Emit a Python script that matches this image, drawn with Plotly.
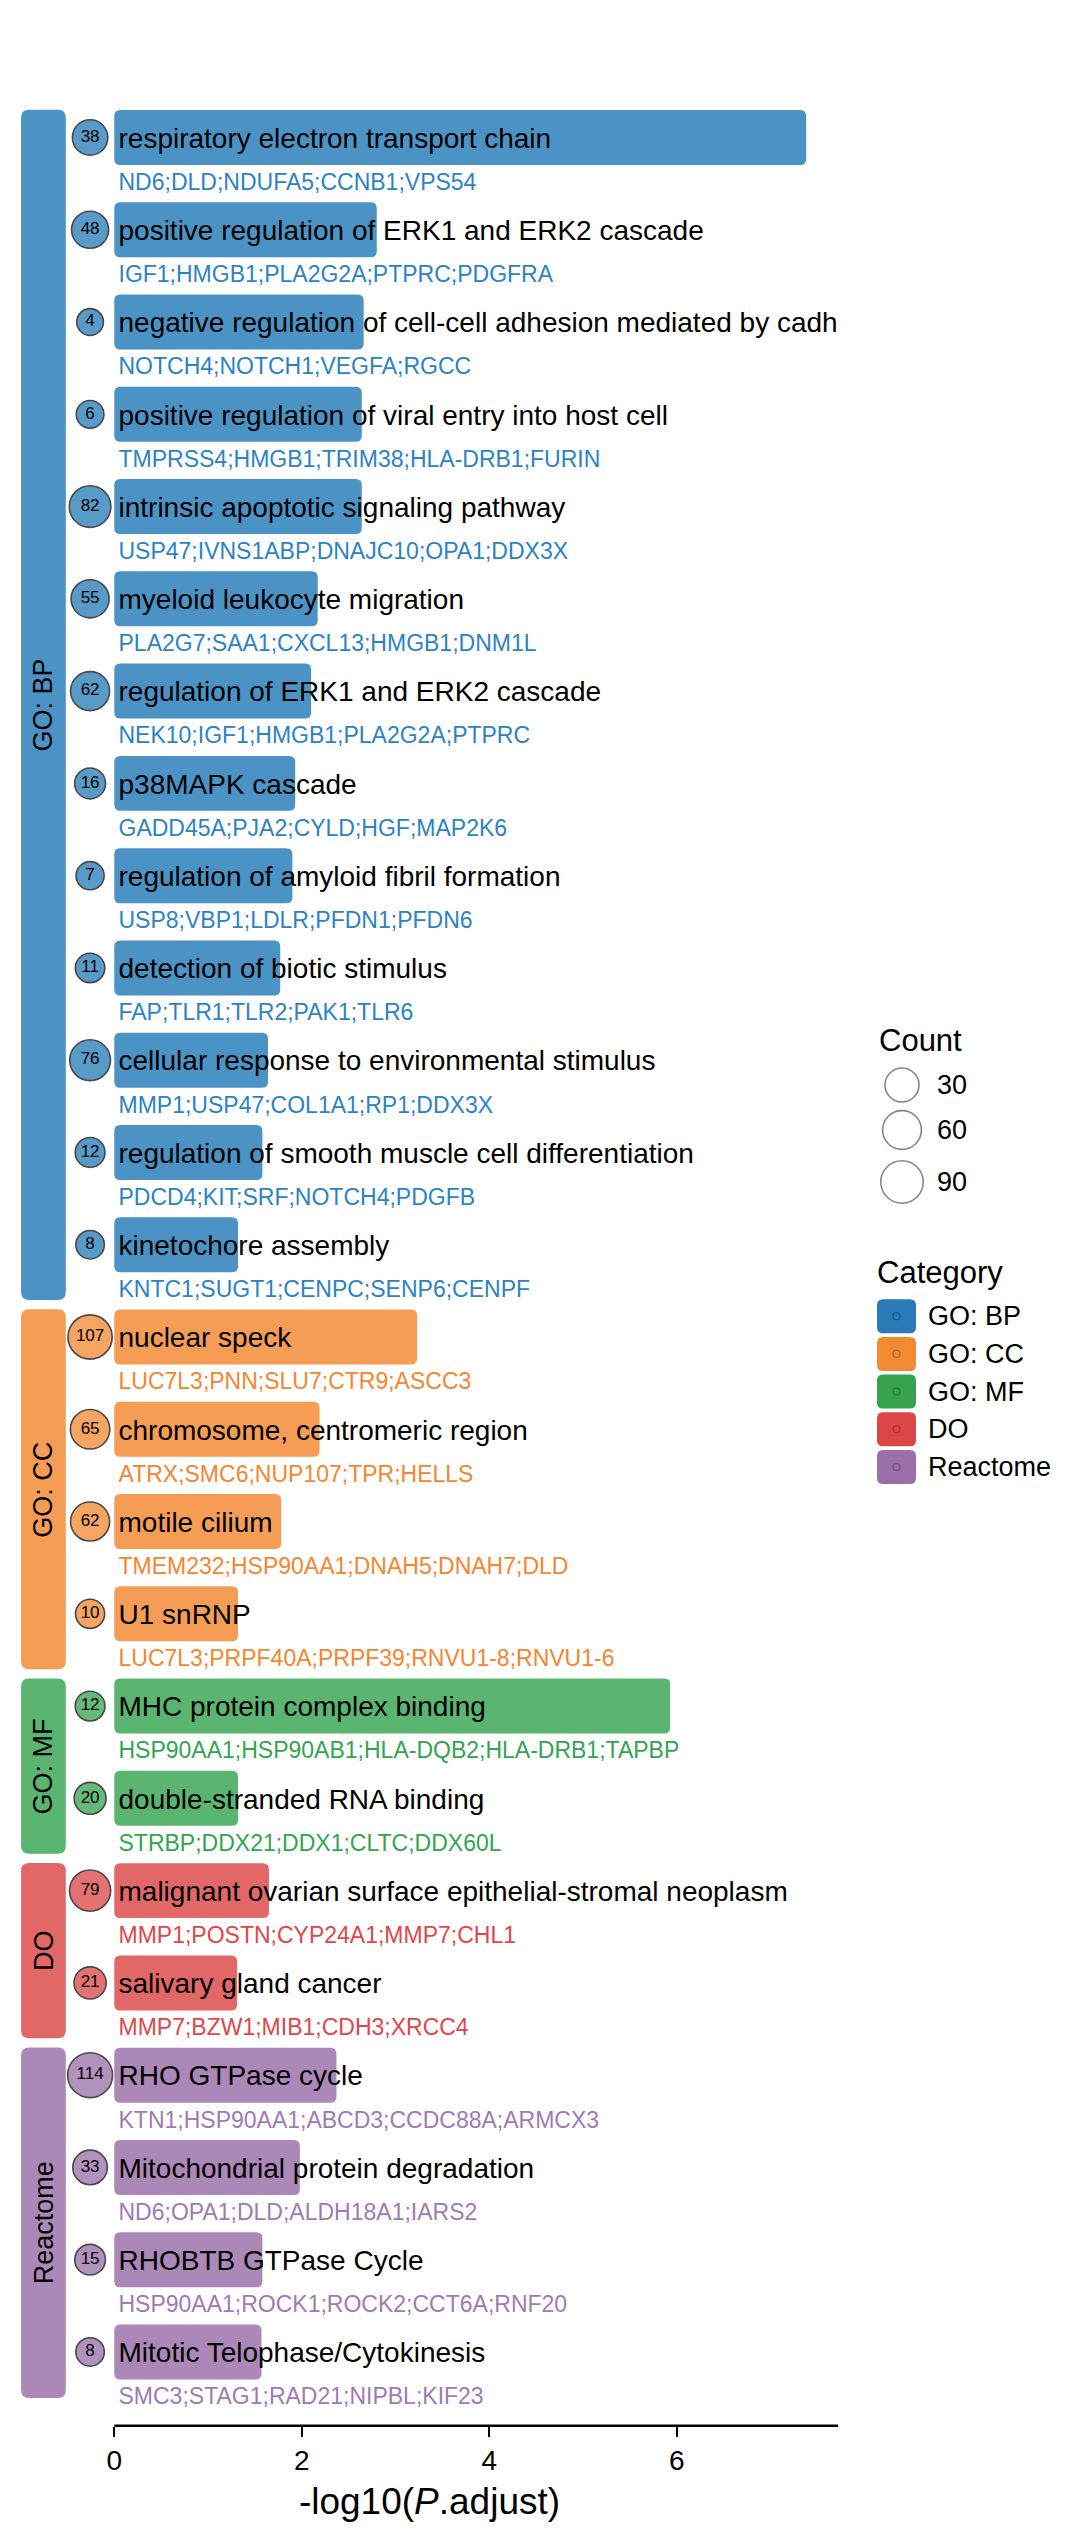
import numpy as np
import plotly.graph_objects as go

# ---------------- data ----------------
categories = ["GO: BP"] * 13 + ["GO: CC"] * 4 + ["GO: MF"] * 2 + ["DO"] * 2 + ["Reactome"] * 4
terms = [
    "respiratory electron transport chain",
    "positive regulation of ERK1 and ERK2 cascade",
    "negative regulation of cell-cell adhesion mediated by cadherin",
    "positive regulation of viral entry into host cell",
    "intrinsic apoptotic signaling pathway",
    "myeloid leukocyte migration",
    "regulation of ERK1 and ERK2 cascade",
    "p38MAPK cascade",
    "regulation of amyloid fibril formation",
    "detection of biotic stimulus",
    "cellular response to environmental stimulus",
    "regulation of smooth muscle cell differentiation",
    "kinetochore assembly",
    "nuclear speck",
    "chromosome, centromeric region",
    "motile cilium",
    "U1 snRNP",
    "MHC protein complex binding",
    "double-stranded RNA binding",
    "malignant ovarian surface epithelial-stromal neoplasm",
    "salivary gland cancer",
    "RHO GTPase cycle",
    "Mitochondrial protein degradation",
    "RHOBTB GTPase Cycle",
    "Mitotic Telophase/Cytokinesis",
]
neglog10_padj = [7.38, 2.80, 2.66, 2.64, 2.64, 2.17, 2.10, 1.93, 1.90, 1.77, 1.64, 1.58, 1.32,
                 3.23, 2.19, 1.78, 1.32,
                 5.93, 1.32,
                 1.65, 1.31,
                 2.37, 1.98, 1.58, 1.57]
counts = [38, 48, 4, 6, 82, 55, 62, 16, 7, 11, 76, 12, 8,
          107, 65, 62, 10,
          12, 20,
          79, 21,
          114, 33, 15, 8]
genes = [
    "ND6;DLD;NDUFA5;CCNB1;VPS54",
    "IGF1;HMGB1;PLA2G2A;PTPRC;PDGFRA",
    "NOTCH4;NOTCH1;VEGFA;RGCC",
    "TMPRSS4;HMGB1;TRIM38;HLA-DRB1;FURIN",
    "USP47;IVNS1ABP;DNAJC10;OPA1;DDX3X",
    "PLA2G7;SAA1;CXCL13;HMGB1;DNM1L",
    "NEK10;IGF1;HMGB1;PLA2G2A;PTPRC",
    "GADD45A;PJA2;CYLD;HGF;MAP2K6",
    "USP8;VBP1;LDLR;PFDN1;PFDN6",
    "FAP;TLR1;TLR2;PAK1;TLR6",
    "MMP1;USP47;COL1A1;RP1;DDX3X",
    "PDCD4;KIT;SRF;NOTCH4;PDGFB",
    "KNTC1;SUGT1;CENPC;SENP6;CENPF",
    "LUC7L3;PNN;SLU7;CTR9;ASCC3",
    "ATRX;SMC6;NUP107;TPR;HELLS",
    "TMEM232;HSP90AA1;DNAH5;DNAH7;DLD",
    "LUC7L3;PRPF40A;PRPF39;RNVU1-8;RNVU1-6",
    "HSP90AA1;HSP90AB1;HLA-DQB2;HLA-DRB1;TAPBP",
    "STRBP;DDX21;DDX1;CLTC;DDX60L",
    "MMP1;POSTN;CYP24A1;MMP7;CHL1",
    "MMP7;BZW1;MIB1;CDH3;XRCC4",
    "KTN1;HSP90AA1;ABCD3;CCDC88A;ARMCX3",
    "ND6;OPA1;DLD;ALDH18A1;IARS2",
    "HSP90AA1;ROCK1;ROCK2;CCT6A;RNF20",
    "SMC3;STAG1;RAD21;NIPBL;KIF23",
]
category_order = ["GO: BP", "GO: CC", "GO: MF", "DO", "Reactome"]
count_breaks = [30, 60, 90]
x_ticks = [0, 2, 4, 6]
x_max = 7.72

# ---------------- styles ----------------
W, H = 1085, 2544
FONT = "Liberation Sans, Arial, sans-serif"
bar_colors = {"GO: BP": "#4A93C4", "GO: CC": "#F59D55", "GO: MF": "#59B56F",
              "DO": "#E26767", "Reactome": "#AB88B8"}
key_colors = {"GO: BP": "#2A7AB7", "GO: CC": "#F28A33", "GO: MF": "#36A24E",
              "DO": "#DB4747", "Reactome": "#9B70AA"}
gene_colors = {"GO: BP": "#2C83C2", "GO: CC": "#F4862F", "GO: MF": "#33A450",
               "DO": "#E0474A", "Reactome": "#A07AB3"}

X_RANGE = [-0.995, x_max]
X_DOM = [21 / W, 838 / W]
Y_RANGE = [24.799, -1.49]
Y_DOM = [(H - 2425.7) / H, 1.0]
PX_X = (X_DOM[1] - X_DOM[0]) * W / (X_RANGE[1] - X_RANGE[0])
PX_Y = (Y_DOM[1] - Y_DOM[0]) * H / (Y_RANGE[0] - Y_RANGE[1])

BAR_HALF = 0.298
STRIP_X = (-0.994, -0.517)
CIRCLE_X = -0.258
LABEL_X = 0.045
TERM_DY = 0.035
GENE_DY = 0.505


def size_px(c):
    return 22.5 + 2.1 * np.sqrt(c)


def rrect(x0, x1, y0, y1, r_px):
    rx = min(r_px / PX_X, (x1 - x0) / 2)
    ry = min(r_px / PX_Y, (y1 - y0) / 2)
    return (f"M {x0+rx},{y0} L {x1-rx},{y0} Q {x1},{y0} {x1},{y0+ry} "
            f"L {x1},{y1-ry} Q {x1},{y1} {x1-rx},{y1} L {x0+rx},{y1} "
            f"Q {x0},{y1} {x0},{y1-ry} L {x0},{y0+ry} Q {x0},{y0} {x0+rx},{y0} Z")


ypos = np.arange(len(terms))
fig = go.Figure()
shapes = []
annotations = []

# bars
for i, (v, cat) in enumerate(zip(neglog10_padj, categories)):
    shapes.append(dict(type="path", xref="x", yref="y", layer="below",
                       path=rrect(0, v, ypos[i] - BAR_HALF, ypos[i] + BAR_HALF, 6),
                       fillcolor=bar_colors[cat], line=dict(width=0)))

# category strips
for gi, cat in enumerate(category_order):
    idx = [i for i, c in enumerate(categories) if c == cat]
    y0 = ypos[idx[0]] - 0.3
    y1 = ypos[idx[-1]] + (0.6 if gi < len(category_order) - 1 else 0.5)
    shapes.append(dict(type="path", xref="x", yref="y", layer="below",
                       path=rrect(STRIP_X[0], STRIP_X[1], y0, y1, 8),
                       fillcolor=bar_colors[cat], line=dict(width=0)))
    annotations.append(dict(x=(STRIP_X[0] + STRIP_X[1]) / 2, y=(y0 + y1) / 2, xref="x", yref="y",
                            text=cat, textangle=-90, showarrow=False,
                            font=dict(family=FONT, size=27, color="black")))

# x axis line from 0 to max
shapes.append(dict(type="line", xref="x", yref="paper", x0=0, x1=x_max,
                   y0=Y_DOM[0], y1=Y_DOM[0], line=dict(color="black", width=2.5)))

# term labels (clipped at panel edge)
fig.add_trace(go.Scatter(
    x=[LABEL_X] * len(terms), y=ypos + TERM_DY, mode="text", text=terms,
    textposition="middle right", cliponaxis=True,
    textfont=dict(family=FONT, size=28, color="black"),
    hoverinfo="skip", showlegend=False))

# gene labels
fig.add_trace(go.Scatter(
    x=[LABEL_X] * len(terms), y=ypos + GENE_DY, mode="text", text=genes,
    textposition="middle right", cliponaxis=False,
    textfont=dict(family=FONT, size=23, color=[gene_colors[c] for c in categories]),
    hoverinfo="skip", showlegend=False))

# count circles
fig.add_trace(go.Scatter(
    x=[CIRCLE_X] * len(terms), y=ypos, mode="markers+text",
    text=[str(c) for c in counts], textposition="middle center",
    textfont=dict(family=FONT, size=17, color="black"),
    marker=dict(size=[size_px(c) for c in counts],
                color=[bar_colors[c] for c in categories], opacity=0.92,
                line=dict(color="#3A3A3A", width=1.6)),
    cliponaxis=False, hoverinfo="skip", showlegend=False))

# ---------------- legends (pixel-mapped overlay axes) ----------------
def pxy(y):
    return 1 - y / H


annotations.append(dict(x=877 / W, y=pxy(1040), xref="paper", yref="paper", xanchor="left",
                        yanchor="middle", text="Count", showarrow=False,
                        font=dict(family=FONT, size=31, color="black")))
count_leg_y = [1085, 1130, 1182]
fig.add_trace(go.Scatter(
    x=[902] * len(count_breaks), y=count_leg_y, xaxis="x2", yaxis="y2", mode="markers",
    marker=dict(size=[size_px(c) for c in count_breaks], color="rgba(255,255,255,0)",
                line=dict(color="#555555", width=1.6)),
    cliponaxis=False, hoverinfo="skip", showlegend=False))
for c, yy in zip(count_breaks, count_leg_y):
    annotations.append(dict(x=935 / W, y=pxy(yy), xref="paper", yref="paper", xanchor="left",
                            yanchor="middle", text=str(c), showarrow=False,
                            font=dict(family=FONT, size=27, color="black")))

annotations.append(dict(x=875 / W, y=pxy(1272), xref="paper", yref="paper", xanchor="left",
                        yanchor="middle", text="Category", showarrow=False,
                        font=dict(family=FONT, size=31, color="black")))
key_y = [1316.2 + 37.7 * k for k in range(len(category_order))]
for cat, yy in zip(category_order, key_y):
    x0, x1, y0, y1 = 877, 916, yy - 17, yy + 17
    r = 6
    shapes.append(dict(type="path", xref="x2", yref="y2", layer="below",
                       path=(f"M {x0+r},{y0} L {x1-r},{y0} Q {x1},{y0} {x1},{y0+r} L {x1},{y1-r} "
                             f"Q {x1},{y1} {x1-r},{y1} L {x0+r},{y1} Q {x0},{y1} {x0},{y1-r} "
                             f"L {x0},{y0+r} Q {x0},{y0} {x0+r},{y0} Z"),
                       fillcolor=key_colors[cat], line=dict(width=0)))
    annotations.append(dict(x=926 / W, y=pxy(yy), xref="paper", yref="paper", xanchor="left",
                            yanchor="middle", text=cat, showarrow=False,
                            font=dict(family=FONT, size=27, color="black")))
fig.add_trace(go.Scatter(
    x=[896.5] * len(category_order), y=key_y, xaxis="x2", yaxis="y2", mode="markers",
    marker=dict(size=7, symbol="circle-open", color="rgba(0,0,0,0.28)", line=dict(width=1.2)),
    cliponaxis=False, hoverinfo="skip", showlegend=False))

fig.update_layout(
    width=W, height=H, autosize=False,
    margin=dict(l=0, r=0, t=0, b=0, pad=0),
    paper_bgcolor="white", plot_bgcolor="rgba(0,0,0,0)",
    showlegend=False,
    font=dict(family=FONT, color="black"),
    xaxis=dict(range=X_RANGE, domain=X_DOM, anchor="y", tickvals=x_ticks,
               ticktext=[str(t) for t in x_ticks],
               ticks="outside", ticklen=10, tickwidth=2, tickcolor="black",
               showline=False, showgrid=False, zeroline=False,
               tickfont=dict(family=FONT, size=28, color="black"),
               title=dict(text="-log10(<i>P</i>.adjust)", standoff=12,
                          font=dict(family=FONT, size=37, color="black"))),
    yaxis=dict(range=Y_RANGE, domain=Y_DOM, anchor="x", visible=False),
    xaxis2=dict(range=[0, W], domain=[0, 1], anchor="y2", visible=False),
    yaxis2=dict(range=[H, 0], domain=[0, 1], anchor="x2", visible=False),
    shapes=shapes, annotations=annotations,
)

fig.write_html("out.html", config={"displayModeBar": False},
               post_script="document.body.style.margin='0';")
